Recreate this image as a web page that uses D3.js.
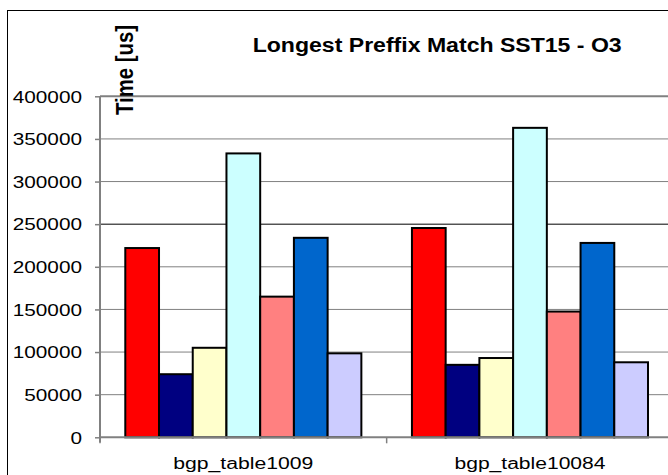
<!DOCTYPE html>
<html>
<head>
<meta charset="utf-8">
<script src="https://cdn.jsdelivr.net/npm/d3@7"></script>
<style>
  html, body { margin: 0; padding: 0; background: #fff; }
  svg { display: block; }
  text { font-family: Arial, "Liberation Sans", sans-serif; }
</style>
</head>
<body>
<script>
// ---- data ----
const categories = ["bgp_table1009", "bgp_table10084"];
const seriesNames = ["S1", "S2", "S3", "S4", "S5", "S6", "S7"];
const seriesColors = ["#FF0000", "#000080", "#FFFFCC", "#CCFFFF", "#FF8080", "#0066CC", "#CCCCFF"];
const valuesTable1009 = [222000, 74000, 105000, 333000, 165000, 234000, 98500];
const valuesTable10084 = [245500, 85000, 93000, 363000, 147500, 228000, 88000];
const yTicks = [0, 50000, 100000, 150000, 200000, 250000, 300000, 350000, 400000];
const chartTitle = "Longest Preffix Match SST15 - O3";
const yTitle = "Time [us]";

const values = [valuesTable1009, valuesTable10084];

// ---- layout ----
const W = 668, H = 475;
const plot = { left: 100, right: 673.3, top: 96.3, bottom: 437.3 };

const svg = d3.select("body").append("svg").attr("width", W).attr("height", H);

// outer chart border (right/bottom fall outside the picture)
svg.append("rect")
  .attr("x", 7.5).attr("y", 10.5).attr("width", 700).attr("height", 500)
  .attr("fill", "none").attr("stroke", "#000").attr("stroke-width", 1);

const x0 = d3.scaleBand().domain(categories).range([plot.left, plot.right]).paddingInner(0).paddingOuter(0);
const x1 = d3.scaleBand().domain(seriesNames).range([0, x0.bandwidth()]).paddingInner(0).paddingOuter(0.75);
const y = d3.scaleLinear().domain([0, 400000]).range([plot.bottom, plot.top]);

// gridlines
svg.append("g").selectAll("line").data(yTicks.filter(d => d > 0)).join("line")
  .attr("x1", plot.left).attr("x2", plot.right)
  .attr("y1", d => y(d)).attr("y2", d => y(d))
  .attr("stroke", d => d === 250000 ? "#000" : "#808080")
  .attr("stroke-width", d => d === 400000 ? 2 : 1);

// bars
const groups = svg.append("g").selectAll("g").data(categories).join("g")
  .attr("transform", d => `translate(${x0(d)},0)`);
groups.selectAll("rect")
  .data((c, i) => seriesNames.map((s, j) => ({ s, v: values[i][j], color: seriesColors[j] })))
  .join("rect")
  .attr("x", d => x1(d.s))
  .attr("width", x1.bandwidth())
  .attr("y", d => y(d.v))
  .attr("height", d => y(0) - y(d.v))
  .attr("fill", d => d.color)
  .attr("stroke", "#000")
  .attr("stroke-width", 2);

// y axis
const yAxis = svg.append("g").attr("transform", `translate(${plot.left},0)`)
  .call(d3.axisLeft(y).tickValues(yTicks).tickFormat(d3.format("d")).tickSize(5).tickPadding(13));
yAxis.select(".domain").attr("stroke", "#808080").attr("stroke-width", 2)
  .attr("d", `M0,${plot.top}V${plot.bottom + 5}`);
yAxis.selectAll(".tick line").attr("stroke", "#808080").attr("stroke-width", 1.5);
yAxis.selectAll(".tick text")
  .attr("font-size", 16).attr("fill", "#000").attr("dy", "0.36em")
  .each(function(d) {
    const s = String(d);
    d3.select(this).attr("textLength", s.length * 11.55).attr("lengthAdjust", "spacingAndGlyphs");
  });

// x axis
const xAxis = svg.append("g").attr("transform", `translate(0,${plot.bottom})`);
xAxis.append("line")
  .attr("x1", plot.left).attr("x2", plot.right).attr("y1", 0).attr("y2", 0)
  .attr("stroke", "#808080").attr("stroke-width", 2);
const boundaries = categories.map(c => x0(c)).concat([x0(categories[categories.length - 1]) + x0.bandwidth()]);
xAxis.selectAll("line.bt").data(boundaries).join("line").attr("class", "bt")
  .attr("x1", d => d).attr("x2", d => d).attr("y1", 0).attr("y2", 6)
  .attr("stroke", "#808080").attr("stroke-width", 1.5);
const xLabelWidths = { "bgp_table1009": 140, "bgp_table10084": 151 };
xAxis.selectAll("text").data(categories).join("text")
  .attr("x", d => x0(d) + x0.bandwidth() / 2)
  .attr("y", 31.5)
  .attr("text-anchor", "middle")
  .attr("font-size", 16)
  .attr("textLength", d => xLabelWidths[d])
  .attr("lengthAdjust", "spacingAndGlyphs")
  .text(d => d);

// title
svg.append("text")
  .attr("x", 252.7).attr("y", 51.7)
  .attr("font-size", 20).attr("font-weight", "bold")
  .attr("textLength", 369).attr("lengthAdjust", "spacingAndGlyphs")
  .text(chartTitle);

// y axis title (rotated)
svg.append("text")
  .attr("transform", "translate(133.3,115) scale(1.15,1) rotate(-90)")
  .attr("font-size", 20).attr("font-weight", "bold")
  .attr("textLength", 90).attr("lengthAdjust", "spacingAndGlyphs")
  .text(yTitle);
</script>
</body>
</html>
